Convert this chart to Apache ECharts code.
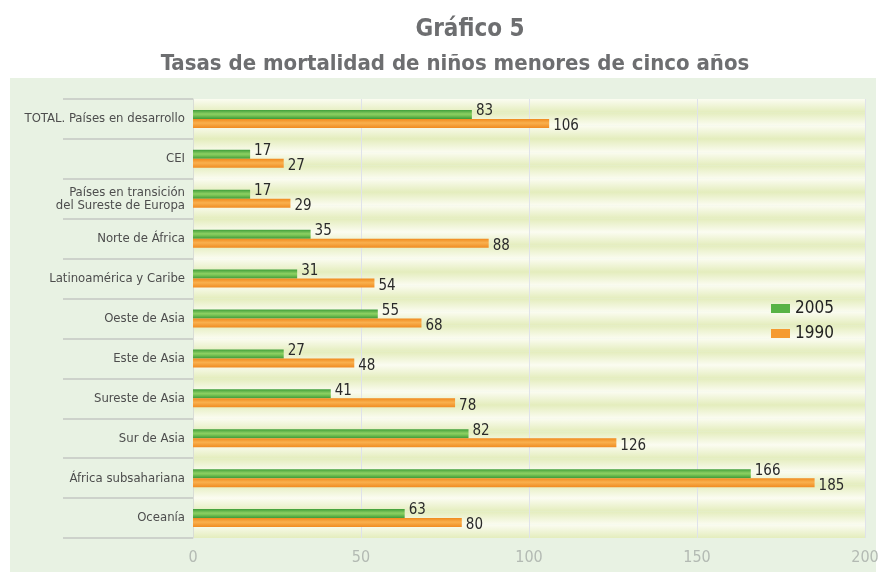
<!DOCTYPE html>
<html>
<head>
<meta charset="utf-8">
<script src="https://cdn.jsdelivr.net/npm/echarts@6/dist/echarts.min.js"></script>
<style>
  html, body { margin: 0; padding: 0; background: #fff; }
  #chart { width: 885px; height: 577px; }
</style>
</head>
<body>
<div id="chart"></div>
<script>
// datos
const regiones = [
  'TOTAL. Países en desarrollo', 'CEI', 'Países en transición\ndel Sureste de Europa',
  'Norte de África', 'Latinoamérica y Caribe', 'Oeste de Asia', 'Este de Asia',
  'Sureste de Asia', 'Sur de Asia', 'África subsahariana', 'Oceanía'
];
const tasas2005 = [83, 17, 17, 35, 31, 55, 27, 41, 82, 166, 63];
const tasas1990 = [106, 27, 29, 88, 54, 68, 48, 78, 126, 185, 80];
const ejeTicks = [0, 50, 100, 150, 200];

const FONT = "'Liberation Sans Narrow', 'DejaVu Sans Condensed', 'Roboto', sans-serif";

// franjas del fondo (solo decoración)
const franjas = Array.from({length: 33}, (_, i) => String(i));
const bandA = new echarts.graphic.LinearGradient(0, 0, 0, 1, [
  {offset: 0, color: '#fbfcf1'}, {offset: 1, color: '#e4edbd'}
]);
const bandB = new echarts.graphic.LinearGradient(0, 0, 0, 1, [
  {offset: 0, color: '#e4edbd'}, {offset: 1, color: '#fbfcf1'}
]);

const verde = new echarts.graphic.LinearGradient(0, 0, 0, 1, [
  {offset: 0, color: '#3f9e3a'}, {offset: 0.45, color: '#8ccf62'},
  {offset: 0.6, color: '#7cc657'}, {offset: 1, color: '#3d9a38'}
]);
const naranja = new echarts.graphic.LinearGradient(0, 0, 0, 1, [
  {offset: 0, color: '#f08a1e'}, {offset: 0.45, color: '#f9b04e'},
  {offset: 1, color: '#f08c22'}
]);

const chart = echarts.init(document.getElementById('chart'));

const option = {
  animation: false,
  graphic: [{
    type: 'rect', z: -10, silent: true,
    shape: {x: 10, y: 78, width: 866, height: 494},
    style: {fill: '#e8f2e3'}
  }],
  title: [
    {
      text: 'Gráfico 5', left: 465, top: 13, textAlign: 'center',
      textStyle: {fontFamily: FONT, fontSize: 24, fontWeight: 'bold', color: '#6d6e70'}
    },
    {
      text: 'Tasas de mortalidad de niños menores de cinco años', left: 450, top: 48, textAlign: 'center',
      textStyle: {fontFamily: FONT, fontSize: 22, fontWeight: 'bold', color: '#6d6e70'}
    }
  ],
  legend: {
    orient: 'vertical', left: 766, top: 295, itemWidth: 19, itemHeight: 9, itemGap: 8,
    textStyle: {fontFamily: FONT, fontSize: 17, color: '#222'},
    data: [
      {name: '2005', icon: 'rect', itemStyle: {color: '#58b346'}},
      {name: '1990', icon: 'rect', itemStyle: {color: '#f59a30'}}
    ]
  },
  grid: {left: 193, right: 20, top: 99, bottom: 39},
  xAxis: {
    type: 'value', min: 0, max: 200, interval: 50,
    axisLine: {show: false}, axisTick: {show: false},
    axisLabel: {
      fontFamily: FONT, fontSize: 16, color: '#b3bab3', margin: 12,
      formatter: v => ejeTicks.includes(v) ? String(v) : ''
    },
    splitLine: {lineStyle: {color: '#dfe2ea', width: 1}}
  },
  yAxis: [
    {
      type: 'category', data: regiones, inverse: true,
      axisLine: {show: true, lineStyle: {color: '#d9ddd6'}},
      axisTick: {show: true, length: 130, lineStyle: {color: '#c3c8c3', width: 1.5}},
      axisLabel: {fontFamily: FONT, fontSize: 13, color: '#4d4d4d', margin: 8, lineHeight: 13}
    },
    {
      type: 'category', data: franjas, position: 'right', inverse: true,
      axisLine: {show: false}, axisTick: {show: false}, axisLabel: {show: false},
      splitArea: {show: true, interval: 0, areaStyle: {color: [bandA, bandB]}}
    }
  ],
  series: [
    {
      name: '2005', type: 'bar', data: tasas2005, barWidth: 9, barGap: '0%',
      itemStyle: {color: verde},
      label: {
        show: true, position: 'right', distance: 4, offset: [0, -3],
        fontFamily: FONT, fontSize: 15, color: '#2a2a2a'
      }
    },
    {
      name: '1990', type: 'bar', data: tasas1990, barWidth: 9,
      itemStyle: {color: naranja},
      label: {
        show: true, position: 'right', distance: 4, offset: [0, 3],
        fontFamily: FONT, fontSize: 15, color: '#2a2a2a'
      }
    }
  ]
};

chart.setOption(option);
window.addEventListener('resize', () => chart.resize());
</script>
</body>
</html>
